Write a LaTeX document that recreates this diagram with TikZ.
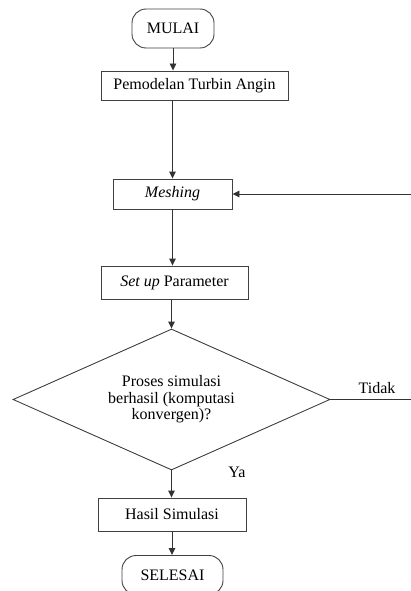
\documentclass[tikz,border=0pt]{standalone}
\usepackage{fontspec}
\setmainfont{Liberation Serif}
\usetikzlibrary{arrows.meta,shapes.geometric}
\begin{document}
\begin{tikzpicture}[x=1pt,y=-1pt,
  font=\fontsize{16}{16.5}\selectfont,
  box/.style={draw=black!75,line width=0.9pt,rectangle,inner sep=0pt},
  term/.style={draw=black!75,line width=0.9pt,rectangle,rounded corners=14pt,inner sep=0pt},
  dec/.style={draw=black!75,line width=0.9pt,diamond,inner sep=0pt,aspect=2.25,align=center},
  arr/.style={draw=black!80,line width=0.9pt,-{Triangle[length=7pt,width=6.5pt]}},
  ln/.style={draw=black!80,line width=0.9pt}]
\useasboundingbox (0,0) rectangle (411,591);
\node[term,minimum width=82pt,minimum height=39pt] (mulai) at (173,28.5) {MULAI};
\node[box,minimum width=187pt,minimum height=29pt] (pem) at (194.5,85.5) {Pemodelan Turbin Angin};
\node[box,minimum width=119pt,minimum height=30pt] (mesh) at (172.5,194) {\textit{Meshing}};
\node[box,minimum width=147pt,minimum height=33pt] (setup) at (174.5,282.5) {\textit{Set up} Parameter};
\node[dec,minimum width=317pt,minimum height=141pt] (dc) at (171.5,399.5) {Proses simulasi\\berhasil (komputasi\\konvergen)?};
\node[box,minimum width=148pt,minimum height=33pt] (hasil) at (172,514.5) {Hasil Simulasi};
\node[term,minimum width=101pt,minimum height=39pt] (selesai) at (172.5,575) {SELESAI};
\node (tidak) at (377,388) {Tidak};
\node (ya) at (237,472) {Ya};
\coordinate (r1) at (412,399.5);
\coordinate (r2) at (412,194);
\draw[arr] (mulai.south) -- (mulai.south |- pem.north);
\draw[arr] (mesh.north |- pem.south) -- (mesh.north);
\draw[arr] (mesh.south) -- (mesh.south |- setup.north);
\draw[arr] (dc.north |- setup.south) -- (dc.north);
\draw[arr] (dc.south) -- (dc.south |- hasil.north);
\draw[arr] (hasil.south) -- (hasil.south |- selesai.north);
\draw[ln] (dc.east) -- (r1) -- (r2);
\draw[arr] (r2) -- (mesh.east);
\end{tikzpicture}
\end{document}
